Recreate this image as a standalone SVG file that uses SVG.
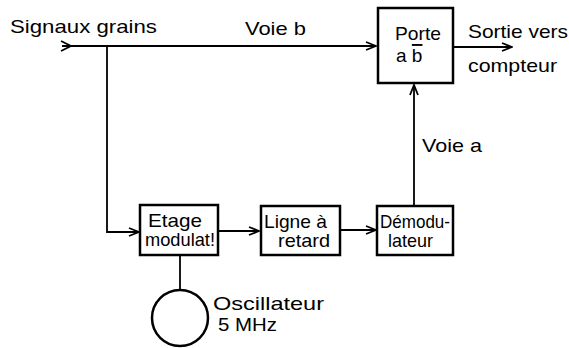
<svg xmlns="http://www.w3.org/2000/svg" width="569" height="348" viewBox="0 0 569 348">
<style>
  text { font-family: "Liberation Sans", Arial, sans-serif; fill: #000; }
  .lbl { font-size: 19px; }
  .box { fill: #fff; stroke: #000; stroke-width: 2.5; }
  .wire { fill: none; stroke: #000; stroke-width: 1.8; }
  .bt { font-size: 19px; }
</style>
<defs>
  <marker id="arr" markerWidth="12" markerHeight="10" refX="11" refY="5" orient="auto" markerUnits="userSpaceOnUse">
    <path d="M1,1 L11,5 L1,9" fill="none" stroke="#000" stroke-width="1.8"/>
  </marker>
</defs>
<rect width="569" height="348" fill="#fff"/>
<g id="connectors">
  <path class="wire" d="M62,46 L376,46" marker-end="url(#arr)"/>
  <path d="M61,41 L71,46 L61,51" fill="none" stroke="#000" stroke-width="1.8"/>
  <path class="wire" d="M107,46 L107,232 L139,232" marker-end="url(#arr)"/>
  <path class="wire" d="M218,231 L259,231" marker-end="url(#arr)"/>
  <path class="wire" d="M340,230 L376,230" marker-end="url(#arr)"/>
  <path class="wire" d="M414,206 L414,85" marker-end="url(#arr)"/>
  <path class="wire" d="M453,47 L512,47" marker-end="url(#arr)"/>
  <path class="wire" d="M180,255 L180,290"/>
</g>
<g id="input-label">
  <text class="lbl" x="10" y="33" textLength="147" lengthAdjust="spacingAndGlyphs">Signaux grains</text>
  <text class="lbl" x="245" y="35" textLength="61" lengthAdjust="spacingAndGlyphs">Voie b</text>
</g>
<g id="porte">
  <rect class="box" x="378" y="8" width="75" height="75"/>
  <text class="bt" x="395" y="40" textLength="46" lengthAdjust="spacingAndGlyphs">Porte</text>
  <text class="bt" x="396" y="62">a <tspan style="text-decoration: overline">b</tspan></text>
</g>
<g id="sortie">
  <text class="lbl" x="468" y="38" textLength="100" lengthAdjust="spacingAndGlyphs">Sortie vers</text>
  <text class="lbl" x="468" y="72" textLength="89" lengthAdjust="spacingAndGlyphs">compteur</text>
</g>
<g id="voie-a">
  <text class="lbl" x="422" y="152" textLength="60" lengthAdjust="spacingAndGlyphs">Voie a</text>
</g>
<g id="etage">
  <rect class="box" x="140" y="205" width="78" height="50"/>
  <text class="bt" x="148" y="227" textLength="54" lengthAdjust="spacingAndGlyphs">Etage</text>
  <text class="bt" x="145" y="246" textLength="70" lengthAdjust="spacingAndGlyphs">modulat!</text>
</g>
<g id="ligne">
  <rect class="box" x="261" y="206" width="79" height="49"/>
  <text class="bt" x="264" y="228" textLength="63" lengthAdjust="spacingAndGlyphs">Ligne à</text>
  <text class="bt" x="278" y="247" textLength="52" lengthAdjust="spacingAndGlyphs">retard</text>
</g>
<g id="demodulateur">
  <rect class="box" x="377" y="206" width="76" height="49"/>
  <text class="bt" x="380" y="228" textLength="70" lengthAdjust="spacingAndGlyphs">Démodu-</text>
  <text class="bt" x="388" y="247" textLength="45" lengthAdjust="spacingAndGlyphs">lateur</text>
</g>
<g id="oscillateur">
  <circle cx="180" cy="318" r="28" fill="#fff" stroke="#000" stroke-width="2.5"/>
  <text class="lbl" x="213" y="310" textLength="111" lengthAdjust="spacingAndGlyphs">Oscillateur</text>
  <text class="lbl" x="218" y="331" textLength="59" lengthAdjust="spacingAndGlyphs">5 MHz</text>
</g>
</svg>
